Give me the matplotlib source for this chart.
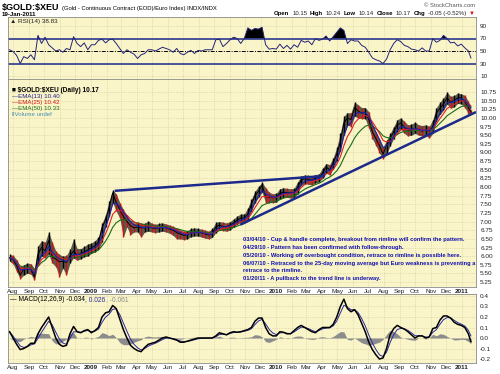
import numpy as np
import pandas as pd
import matplotlib
matplotlib.use("Agg")
import matplotlib.pyplot as plt

plt.rcParams['text.parse_math'] = False
plt.rcParams['font.family'] = ['Liberation Sans', 'DejaVu Sans']

# weekly readings (Friday), plus the last session 19-Jan-2011
dates = pd.DatetimeIndex(list(pd.date_range('2008-07-25', '2011-01-14', freq='W-FRI'))
                         + [pd.Timestamp('2011-01-19')])

close = [5.95, 5.90, 5.72, 5.45, 5.62, 5.64, 5.62, 5.40, 6.05, 6.25,
         6.15, 6.45, 5.97, 5.92, 5.84, 5.85, 5.82, 6.00, 6.15, 6.03,
         6.08, 6.12, 6.18, 6.24, 6.30, 6.40, 6.82, 7.05, 7.40, 7.83,
         7.55, 7.35, 7.15, 7.00, 6.88, 6.82, 6.84, 6.82, 6.82, 6.86,
         6.82, 6.80, 6.82, 6.84, 6.82, 6.78, 6.75, 6.68, 6.64, 6.60,
         6.62, 6.68, 6.70, 6.70, 6.67, 6.64, 6.61, 6.66, 6.84, 6.90,
         6.86, 6.85, 6.90, 6.96, 7.04, 7.10, 7.10, 7.22, 7.50, 7.75,
         7.88, 8.05, 7.72, 7.70, 7.69, 7.70, 7.82, 7.85, 7.84, 7.83,
         7.84, 8.00, 8.20, 8.25, 8.22, 8.20, 8.26, 8.28, 8.40, 8.58,
         8.50, 8.70, 8.95, 9.30, 9.85, 10.00, 9.95, 10.30, 10.20, 10.14,
         10.16, 9.95, 9.60, 9.40, 9.20, 8.95, 9.20, 9.40, 9.60, 9.80,
         9.85, 9.72, 9.65, 9.65, 9.70, 9.66, 9.62, 9.65, 9.62, 9.75,
         10.14, 10.28, 10.40, 10.58, 10.45, 10.50, 10.58, 10.58, 10.46, 10.30,
         10.17]

high = [6.05, 6.02, 5.90, 5.68, 5.75, 5.80, 5.78, 5.65, 6.30, 6.45,
        6.40, 6.70, 6.40, 6.15, 6.05, 6.00, 6.02, 6.20, 6.50, 6.22,
        6.22, 6.28, 6.35, 6.38, 6.45, 6.55, 6.95, 7.20, 7.60, 7.92,
        7.80, 7.55, 7.35, 7.18, 7.02, 6.95, 6.98, 6.95, 6.95, 7.02,
        6.95, 6.92, 6.95, 6.96, 6.93, 6.90, 6.86, 6.80, 6.75, 6.72,
        6.74, 6.80, 6.82, 6.80, 6.78, 6.75, 6.72, 6.80, 6.98, 7.00,
        6.98, 6.96, 7.00, 7.08, 7.16, 7.22, 7.22, 7.40, 7.65, 7.88,
        8.02, 8.14, 7.98, 7.85, 7.80, 7.82, 7.95, 7.98, 7.96, 7.95,
        7.96, 8.15, 8.32, 8.35, 8.34, 8.32, 8.36, 8.38, 8.55, 8.68,
        8.65, 8.85, 9.15, 9.55, 10.05, 10.15, 10.15, 10.46, 10.38, 10.30,
        10.30, 10.18, 9.80, 9.58, 9.38, 9.15, 9.35, 9.55, 9.75, 9.95,
        10.00, 9.90, 9.80, 9.82, 9.88, 9.80, 9.78, 9.80, 9.76, 9.95,
        10.30, 10.45, 10.58, 10.75, 10.62, 10.65, 10.72, 10.70, 10.65, 10.48,
        10.24]

low = [5.85, 5.78, 5.55, 5.35, 5.45, 5.50, 5.48, 5.30, 5.75, 6.00,
       5.95, 6.05, 5.80, 5.70, 5.40, 5.65, 5.45, 5.80, 5.95, 5.88,
       5.92, 5.98, 6.00, 6.08, 6.12, 6.20, 6.40, 6.85, 7.15, 7.55,
       7.30, 7.10, 6.55, 6.85, 6.62, 6.70, 6.70, 6.55, 6.70, 6.72,
       6.70, 6.68, 6.70, 6.72, 6.70, 6.66, 6.60, 6.50, 6.50, 6.48,
       6.50, 6.56, 6.58, 6.58, 6.55, 6.52, 6.50, 6.54, 6.68, 6.76,
       6.74, 6.72, 6.76, 6.84, 6.92, 6.98, 6.96, 7.05, 7.30, 7.55,
       7.70, 7.85, 7.55, 7.55, 7.55, 7.56, 7.66, 7.70, 7.70, 7.68,
       7.70, 7.80, 8.05, 8.10, 8.08, 8.06, 8.12, 8.14, 8.25, 8.40,
       8.35, 8.52, 8.75, 9.05, 9.50, 9.80, 9.75, 10.05, 10.00, 9.98,
       9.98, 9.70, 9.40, 9.20, 8.98, 8.82, 8.95, 9.20, 9.40, 9.60,
       9.68, 9.55, 9.48, 9.50, 9.55, 9.50, 9.48, 9.50, 9.42, 9.55,
       9.90, 10.10, 10.22, 10.40, 10.28, 10.32, 10.42, 10.40, 10.30, 10.12,
       10.14]

rsi = [52, 49, 43, 30, 41, 38, 44, 36, 75, 62,
       72, 60, 55, 50, 52, 48, 54, 52, 73, 62,
       57, 63, 52, 60, 60, 67, 69, 63, 68, 69,
       62, 54, 46, 52, 48, 45, 38, 44, 46, 52,
       52, 50, 53, 56, 54, 52, 48, 54, 46, 44,
       48, 51, 46, 51, 50, 52, 52, 52, 68, 69,
       57, 62, 68, 72, 70, 62, 70, 87, 83, 86,
       85, 88, 60, 53, 54, 53, 61, 54, 59, 53,
       60, 56, 67, 64, 66, 60, 70, 67, 69, 74,
       66, 73, 80, 87, 83, 62, 68, 66, 66, 59,
       56, 48, 39, 36, 34, 30, 37, 52, 62, 68,
       65, 59, 57, 53, 52, 50, 55, 50, 50, 70,
       64, 67, 75, 70, 63, 64, 58, 61, 55, 50,
       38.83]

macd = [0.06, 0.00, -0.06, -0.11, -0.10, -0.08, -0.05, -0.05, 0.04, 0.10,
        0.15, 0.20, 0.10, 0.00, -0.06, -0.08, -0.07, 0.04, 0.11, 0.06,
        0.05, 0.07, 0.08, 0.05, 0.07, 0.10, 0.20, 0.24, 0.25, 0.31,
        0.28, 0.18, 0.08, 0.00, -0.07, -0.10, -0.12, -0.13, -0.09, -0.06,
        -0.05, -0.04, -0.02, 0.00, 0.01, 0.00, -0.01, -0.02, -0.04, -0.04,
        -0.03, -0.02, -0.01, 0.00, 0.00, 0.00, 0.00, 0.00, 0.02, 0.05,
        0.04, 0.03, 0.05, 0.06, 0.055, 0.06, 0.07, 0.08, 0.10, 0.16,
        0.19, 0.19, 0.10, 0.04, 0.02, 0.02, 0.06, 0.055, 0.04, 0.04,
        0.07, 0.10, 0.12, 0.10, 0.08, 0.06, 0.05, 0.08, 0.10, 0.10,
        0.10, 0.13, 0.20, 0.30, 0.37, 0.28, 0.25, 0.27, 0.22, 0.14,
        0.06, -0.04, -0.11, -0.16, -0.20, -0.19, -0.10, 0.03, 0.09, 0.12,
        0.10, 0.085, 0.06, 0.03, 0.00, 0.02, 0.02, 0.00, 0.01, 0.09,
        0.10, 0.17, 0.21, 0.21, 0.19, 0.15, 0.13, 0.12, 0.10, 0.04,
        -0.034]

price_ticks = [5.25, 5.50, 5.75, 6.00, 6.25, 6.50, 6.75, 7.00, 7.25, 7.50, 7.75, 8.00,
               8.25, 8.50, 8.75, 9.00, 9.25, 9.50, 9.75, 10.00, 10.25, 10.50, 10.75]
rsi_ticks = [10, 30, 50, 70, 90]
macd_ticks = [-0.2, -0.1, 0.0, 0.1, 0.2, 0.3, 0.4]
month_ticks = pd.date_range('2008-08-01', '2011-01-01', freq='MS')

# hand-drawn lines on the chart
rim_dates = pd.to_datetime(['2009-02-17', '2010-04-07'])
rim_prices = [7.89, 8.32]
trend_dates = pd.to_datetime(['2009-10-22', '2011-01-29'])
trend_prices = [6.91, 10.17]

notes = ["03/04/10 - Cup & handle complete, breakout from rimline will confirm the pattern.",
         "04/29/10 - Pattern has been confirmed with follow-through.",
         "05/20/10 - Working off overbought condition, retrace to rimline is possible here.",
         "06/07/10 - Retraced to the 25-day moving average but Euro weakness is preventing a",
         "retrace to the rimline.",
         "01/20/11 - A pullback to the trend line is underway."]

BG = '#faf5c8'
NAVY = '#1c2a8c'
GRID = dict(color='#cfc79a', ls=':', lw=0.5)
xlim = (pd.Timestamp('2008-07-22'), pd.Timestamp('2011-01-29'))

s = pd.Series(close, index=dates)
ema13 = s.ewm(halflife=pd.Timedelta(days=6.3), times=dates).mean()
ema25 = s.ewm(halflife=pd.Timedelta(days=12), times=dates).mean()
ema50 = s.ewm(halflife=pd.Timedelta(days=24), times=dates).mean()
m = pd.Series(macd, index=dates)
signal = m.ewm(halflife=pd.Timedelta(days=6), times=dates).mean()
hist = m - signal

fig = plt.figure(figsize=(5, 3.74), dpi=100)
W, H = 500.0, 374.0


def panel(top, bottom, left=8, right=476):
    a = fig.add_axes([left / W, 1 - bottom / H, (right - left) / W, (bottom - top) / H])
    a.set_facecolor(BG)
    for sp in a.spines.values():
        sp.set_color('#8a8a8a')
        sp.set_linewidth(0.6)
    a.yaxis.tick_right()
    a.tick_params(length=0, labelsize=4.6, pad=3, colors='#222222')
    a.set_xlim(xlim)
    a.set_xticks(month_ticks)
    labels = [d.strftime('%Y') if d.month == 1 else d.strftime('%b') for d in month_ticks]
    a.set_xticklabels(labels)
    for t, d in zip(a.get_xticklabels(), month_ticks):
        if d.month == 1:
            t.set_fontweight('bold')
    a.tick_params(axis='x', pad=1.5)
    a.grid(True, **GRID)
    a.set_axisbelow(True)
    return a


ax_rsi = panel(17, 79)
ax = panel(79, 287)
ax_m = panel(294, 363)

# RSI
ax_rsi.set_ylim(5.2, 104.4)
ax_rsi.set_yticks(rsi_ticks)
ax_rsi.tick_params(axis='x', labelbottom=False)
ax_rsi.axhline(70, color=NAVY, lw=1.1)
ax_rsi.axhline(30, color=NAVY, lw=1.1)
ax_rsi.axhline(50, color='black', lw=0.7, ls=(0, (4, 1.5, 1, 1.5)))
r = np.array(rsi)
ax_rsi.fill_between(dates, r, 70, where=r > 70, interpolate=True, color='black', lw=0)
ax_rsi.plot(dates, r, color='#24247a', lw=0.7)
ax_rsi.text(0.005, 0.93, "\u25b2 RSI(14) 38.83", transform=ax_rsi.transAxes,
            fontsize=4.6, va='center', color='#222222')

# price panel
ax.set_ylim(5.107, 11.126)
ax.set_yticks(price_ticks)
ax.set_yticklabels(['%.2f' % v for v in price_ticks])
cols = ['black'] + ['#d01010' if close[i] < close[i - 1] else 'black' for i in range(1, len(close))]
ax.fill_between(dates, low, high, color='#1a1a1a', alpha=0.7, lw=0)
ax.vlines(dates, low, high, colors=cols, lw=1.0)
ax.plot(dates, close, color='black', lw=0.7)
ax.plot(dates, ema50, color='#1a6b1a', lw=0.8)
ax.plot(dates, ema25, color='#e02020', lw=0.8)
ax.plot(dates, ema13, color='#2020b0', lw=0.8)
ax.plot(rim_dates, rim_prices, color=NAVY, lw=1.8, solid_capstyle='butt')
ax.plot(trend_dates, trend_prices, color=NAVY, lw=1.8, solid_capstyle='butt')

leg = [("\u25a0 $GOLD:$XEU (Daily) 10.17", 'black', 'bold', 4.7),
       ("\u2014EMA(13) 10.40", '#1a1a90', 'normal', 4.4),
       ("\u2014EMA(25) 10.42", '#d01010', 'normal', 4.4),
       ("\u2014EMA(50) 10.33", '#1a6b1a', 'normal', 4.4),
       ("\u2016Volume undef", '#4a8fb0', 'normal', 4.4)]
ly = [90, 96.5, 102.5, 108.5, 114.5]
for (txt, c, fw, fs), y in zip(leg, ly):
    ax.text(4 / 468, 1 - (y - 79) / 208, txt, transform=ax.transAxes, color=c,
            fontweight=fw, fontsize=fs, va='center')

for i, line in enumerate(notes):
    y = 240 + 7.75 * i
    ax.text((243 - 8) / 468, 1 - (y - 79) / 208, line, transform=ax.transAxes,
            color='#1010b0', fontweight='bold', fontsize=4.15, va='center')

# MACD
ax_m.set_ylim(-0.238, 0.419)
ax_m.set_yticks(macd_ticks)
ax_m.set_yticklabels(['%.1f' % v for v in macd_ticks])
ax_m.fill_between(dates, hist.values, 0, color='#8c8c8c', lw=0)
ax_m.plot(dates, signal, color='#2a2aa0', lw=0.7)
ax_m.plot(dates, m, color='black', lw=1.1)
t0 = ax_m.text(0.005, 0.965, "\u2014 MACD(12,26,9) -0.034", transform=ax_m.transAxes,
               fontsize=4.8, va='top', color='black')
t1 = ax_m.annotate(", 0.026", xy=(1, 0), xycoords=t0, va='bottom', fontsize=4.8, color='#2a2aa0')
ax_m.annotate(", -0.061", xy=(1, 0), xycoords=t1, va='bottom', fontsize=4.8, color='#8c8c8c')

# header
title = fig.text(2 / W, 1 - 10 / H, "$GOLD:$XEU", fontsize=6.5, fontweight='bold', va='baseline')
ax_rsi.annotate("(Gold - Continuous Contract (EOD)/Euro Index) INDX/INDX", xy=(1, 1 - 10 / H),
                xycoords=(title, 'figure fraction'), xytext=(2, 0), textcoords='offset points',
                fontsize=4.2, va='baseline', annotation_clip=False)
fig.text(2 / W, 1 - 16 / H, "19-Jan-2011", fontsize=4.4, fontweight='bold', va='baseline')
fig.text(475 / W, 1 - 7 / H, "\u00a9 StockCharts.com", fontsize=4.2, color='#555555',
         ha='right', va='baseline')

parts = [("\u25bc", '#d01010', 'normal'), ("-0.05 (-0.52%)", '#222222', 'normal'),
         ("Chg", 'black', 'bold'), ("10.17", '#222222', 'normal'), ("Close", 'black', 'bold'),
         ("10.14", '#222222', 'normal'), ("Low", 'black', 'bold'), ("10.24", '#222222', 'normal'),
         ("High", 'black', 'bold'), ("10.15", '#222222', 'normal'), ("Open", 'black', 'bold')]
prev = fig.text(475 / W, 1 - 15 / H, parts[0][0], color=parts[0][1], fontsize=4.3,
                ha='right', va='baseline')
for txt, c, fw in parts[1:]:
    prev = ax_rsi.annotate(txt, xy=(0, 1 - 15 / H), xycoords=(prev, 'figure fraction'),
                           xytext=(-2, 0), textcoords='offset points', ha='right', va='baseline',
                           color=c, fontweight=fw, fontsize=4.3, annotation_clip=False)

fig.savefig('out.png', dpi=100)
